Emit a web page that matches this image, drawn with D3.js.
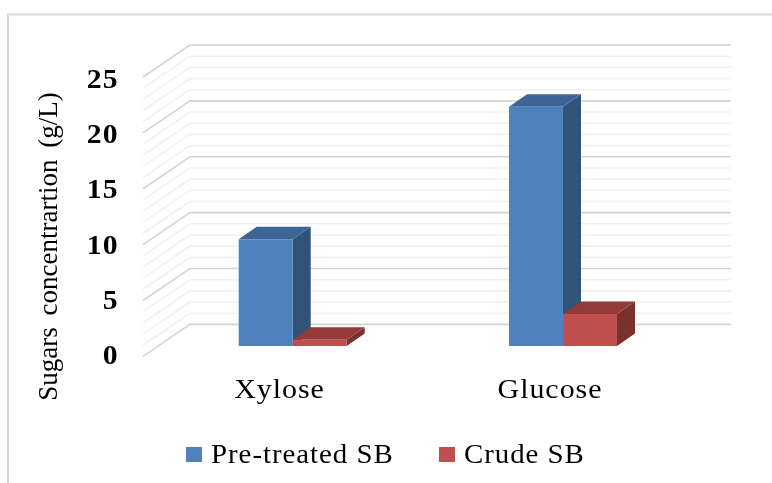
<!DOCTYPE html>
<html><head><meta charset="utf-8">
<script src="https://cdn.jsdelivr.net/npm/d3@7/dist/d3.min.js"></script>
<style>html,body{margin:0;background:#fff}svg{display:block;filter:blur(0.35px)}text{font-family:"Liberation Serif",serif;fill:#000}</style>
</head><body><svg id="c" width="772" height="483"></svg>
<script>
const categories = ["Xylose","Glucose"];
const seriesNames = ["Pre-treated SB","Crude SB"];
const preTreated = [9.55,21.4];
const crude = [0.55,2.87];
const yTicks = [0,5,10,15,20,25];
const minorTicks = d3.range(0,26);
const seriesFront = ["#4f81bd","#c0504d"];
const seriesTop = ["#3c6494","#943a37"];
const seriesSide = ["#315379","#7a302e"];
const values = [preTreated, crude];

const svg = d3.select("#c");
// frame
svg.append("path").attr("d","M8,483V14.5H772").attr("fill","none").attr("stroke","#d9d9d9").attr("stroke-width",2);

const y = d3.scaleLinear().domain([0,25]).range([324.4,45]);
const wallX = 190, wallRight = 731, depthX = 47, depthY = 32;
const grid = svg.append("g");
minorTicks.filter(d=>d%5!==0).concat(yTicks).forEach(d=>{
  const major = d%5===0;
  grid.append("path")
    .attr("d",`M${wallX-depthX},${y(d)+depthY}L${wallX},${y(d)}H${wallRight}`)
    .attr("fill","none").attr("stroke",major?"#d4d4d4":"#f1f1f1").attr("stroke-width",1.6);
});

// bars
const x0 = d3.scalePoint().domain(categories).range([238.7,509]);
const barW = 54, baseY = 346, dx = 18, dy = 12.5;
const h = v => y(0)-y(v);
const bars = svg.append("g");
categories.forEach((c,i)=>{
  [0,1].forEach(s=>{
    const v = values[s][i], L = x0(c)+s*barW, R = L+barW, T = baseY-h(v);
    const g = bars.append("g");
    g.append("path").attr("d",`M${R},${T}L${R+dx},${T-dy}V${baseY-dy}L${R},${baseY}Z`).attr("fill",seriesSide[s]);
    g.append("path").attr("d",`M${L},${T}L${L+dx},${T-dy}H${R+dx}L${R},${T}Z`).attr("fill",seriesTop[s]);
    g.append("rect").attr("x",L).attr("y",T).attr("width",barW).attr("height",h(v)).attr("fill",seriesFront[s]);
  });
});

// y tick labels
const labelY = d3.scaleLinear().domain([0,25]).range([364,88]);
const yl = svg.append("g");
yTicks.forEach(d=>{
  yl.append("text").attr("transform",`translate(119,${labelY(d)}) scale(1.1,1)`).attr("text-anchor","end")
    .attr("font-size",27).attr("font-weight","bold").attr("letter-spacing",1.2).text(d);
});
svg.append("text").attr("transform","translate(57,246.5) rotate(-90)").attr("text-anchor","middle")
  .attr("font-size",27).attr("word-spacing",5).text("Sugars concentrartion (g/L)");

// category labels
[279.5,550].forEach((px,i)=>{
  svg.append("text").attr("transform",`translate(${px},398) scale(1.07,1)`).attr("text-anchor","middle").attr("font-size",28).attr("letter-spacing",0.9).text(categories[i]);
});

// legend
[[186,211],[439,464]].forEach((p,i)=>{
  svg.append("rect").attr("x",p[0]).attr("y",447).attr("width",16).attr("height",15).attr("fill",seriesFront[i]);
  svg.append("text").attr("transform",`translate(${p[1]},462.5) scale(1.07,1)`).attr("font-size",27).attr("letter-spacing",0.9).text(seriesNames[i]);
});
</script></body></html>
